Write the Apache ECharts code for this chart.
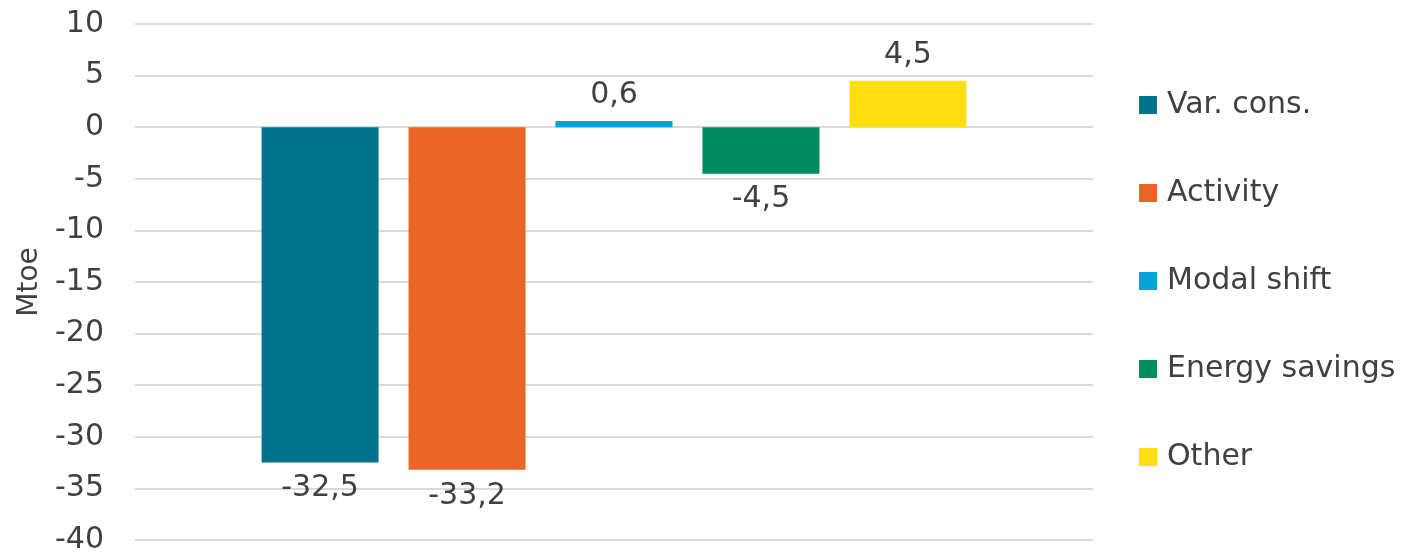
<!DOCTYPE html>
<html>
<head>
<meta charset="utf-8">
<script src="https://cdn.jsdelivr.net/npm/echarts@6/dist/echarts.min.js"></script>
<style>
  html, body { margin: 0; padding: 0; background: #fff; }
  #chart { width: 1405px; height: 555px; }
</style>
</head>
<body>
<div id="chart"></div>
<script>
// data
const seriesNames = ['Var. cons.', 'Activity', 'Modal shift', 'Energy savings', 'Other'];
const seriesValues = [-32.5, -33.2, 0.6, -4.5, 4.5];
const seriesColors = ['#00738C', '#EB6626', '#00A3D2', '#008C5E', '#FFDE14'];
const category = [''];

const textColor = '#404040';
const fontFamily = 'DejaVu Sans, Verdana, sans-serif';

const chart = echarts.init(document.getElementById('chart'));

const series = seriesNames.map((name, i) => ({
  name,
  type: 'bar',
  barWidth: 117,
  barGap: '25.6%',
  itemStyle: { color: seriesColors[i] },
  label: {
    show: true,
    position: seriesValues[i] < 0 ? 'bottom' : 'top',
    distance: 11,
    fontSize: 30,
    fontFamily,
    color: textColor,
    formatter: p => String(p.value).replace('.', ',')
  },
  data: [seriesValues[i]]
}));

chart.setOption({
  animation: false,
  grid: { left: 135, right: 312, top: 24, bottom: 15 },
  legend: {
    orient: 'vertical',
    left: 1139,
    top: 90,
    padding: 0,
    itemWidth: 18,
    itemHeight: 18,
    itemGap: 58,
    icon: 'rect',
    textStyle: { fontSize: 30, fontFamily, color: textColor, padding: [0, 0, 0, 5] },
    data: seriesNames
  },
  xAxis: {
    type: 'category',
    data: category,
    axisLine: { show: false },
    axisTick: { show: false },
    axisLabel: { show: false }
  },
  yAxis: {
    type: 'value',
    min: -40,
    max: 10,
    interval: 5,
    name: 'Mtoe',
    nameLocation: 'middle',
    nameGap: 91,
    nameTextStyle: { fontSize: 28, fontFamily, color: textColor },
    axisLine: { show: false },
    axisTick: { show: false },
    axisLabel: { fontSize: 30, fontFamily, color: textColor, margin: 31 },
    splitLine: { lineStyle: { color: '#D9D9D9', width: 2 } }
  },
  series
});
</script>
</body>
</html>
